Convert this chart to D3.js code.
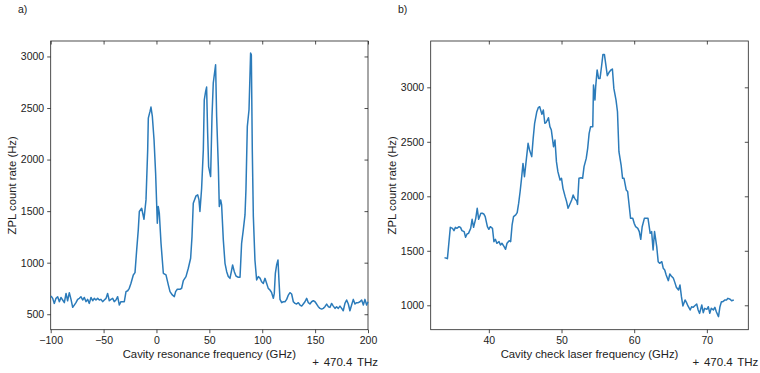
<!DOCTYPE html>
<html>
<head>
<meta charset="utf-8">
<script src="https://cdn.jsdelivr.net/npm/d3@7"></script>
<style>
  body { margin: 0; background: #fff; }
  svg text { font-family: "Liberation Sans", Arial, sans-serif; fill: #222; }
</style>
</head>
<body>
<div id="chart"></div>
<script>
// scan a) : cavity resonance frequency (GHz offset) vs ZPL count rate (Hz)
const scanA = [
  [-99.7,677],[-98.1,654],[-96.6,605],[-95.0,654],[-93.4,670],[-91.8,622],[-90.3,663],[-88.7,638],
  [-87.1,612],[-85.5,702],[-84.0,631],[-82.4,709],[-80.8,644],[-79.2,567],[-77.7,589],[-76.1,612],
  [-74.5,644],[-72.9,654],[-71.4,670],[-69.8,638],[-68.2,663],[-66.6,622],[-65.1,644],[-63.5,605],
  [-61.9,663],[-60.3,631],[-58.8,654],[-57.2,638],[-55.6,654],[-54.0,638],[-52.5,644],[-50.9,622],
  [-49.3,638],[-47.7,654],[-46.2,702],[-44.6,631],[-43.0,644],[-41.4,654],[-39.9,622],[-38.3,638],
  [-36.7,670],[-35.1,589],[-33.6,622],[-32.0,622],[-30.4,622],[-28.8,719],[-27.2,728],[-25.7,751],
  [-24.1,800],[-21.9,881],[-20.3,904],[-18.7,1124],[-17.2,1318],[-16.2,1496],[-14.0,1528],[-11.8,1421],
  [-9.9,1609],[-8.3,2094],[-7.7,2402],[-6.1,2467],[-5.2,2509],[-3.9,2418],[-2.3,2192],[-0.8,1868],
  [0.8,1383],[1.7,1544],[2.7,1480],[4.3,1188],[6.5,897],[9.0,881],[11.2,784],[12.8,719],
  [15.0,687],[16.9,671],[18.1,719],[19.7,742],[22.2,742],[23.8,752],[25.4,826],[27.9,865],
  [30.1,946],[32.3,1043],[33.6,1253],[34.8,1577],[37.4,1648],[39.0,1658],[40.2,1609],[41.1,1496],
  [42.7,1722],[44.3,2094],[45.2,2580],[46.5,2661],[47.4,2703],[48.4,2256],[49.3,1932],[51.2,1835],
  [52.5,2418],[53.7,2741],[55.3,2871],[55.9,2919],[56.9,2418],[58.5,1932],[59.4,1544],[60.7,1609],
  [61.6,1560],[63.2,1221],[64.8,994],[66.4,913],[67.9,865],[69.5,848],[71.1,929],[72.0,978],
  [73.6,913],[75.2,871],[77.4,858],[79.0,858],[80.5,1188],[82.1,1318],[83.7,1463],[84.6,1706],
  [85.9,2321],[87.5,2483],[89.0,3033],[89.7,3016],[90.6,2094],[91.6,1447],[93.1,1026],[94.7,832],
  [96.3,865],[97.9,850],[99.4,815],[101.0,799],[102.6,848],[104.2,799],[105.7,751],[107.3,735],
  [108.9,709],[110.5,654],[111.4,702],[112.4,897],[113.6,977],[114.9,1026],[115.8,832],[116.8,644],
  [118.4,612],[119.9,621],[121.5,621],[123.1,644],[124.7,686],[126.2,709],[127.8,696],[129.4,621],
  [131.0,605],[132.5,599],[134.1,612],[135.7,589],[137.3,579],[138.8,599],[140.4,621],[142.0,654],
  [143.6,612],[145.1,599],[146.7,621],[148.3,631],[149.9,621],[151.4,599],[153.0,573],[154.6,557],
  [156.2,550],[157.7,557],[159.3,573],[160.9,599],[162.5,573],[164.0,566],[165.6,605],[167.2,579],
  [168.8,557],[170.3,573],[171.9,557],[173.5,579],[175.1,557],[176.6,534],[178.2,605],[179.8,638],
  [181.4,599],[182.9,534],[184.5,589],[186.1,644],[187.7,599],[189.2,612],[190.8,612],[192.4,621],
  [194.0,638],[195.6,589],[197.1,644],[198.7,589],[200.0,621]
];

// scan b) : cavity check laser frequency (GHz offset) vs ZPL count rate (Hz)
const scanB = [
  [33.9,1437],[34.3,1428],[34.7,1715],[35.0,1706],[35.2,1685],[35.4,1715],[35.6,1706],[35.9,1721],
  [36.1,1715],[36.3,1685],[36.6,1676],[36.8,1624],[37.0,1654],[37.2,1660],[37.5,1706],[37.7,1789],
  [37.9,1715],[38.2,1798],[38.4,1890],[38.6,1789],[38.9,1844],[39.1,1844],[39.3,1838],[39.5,1813],
  [39.8,1721],[40.0,1697],[40.2,1721],[40.5,1706],[40.7,1584],[40.9,1605],[41.1,1569],[41.4,1584],
  [41.6,1553],[41.8,1569],[42.1,1538],[42.3,1514],[42.5,1569],[42.8,1593],[43.0,1584],[43.2,1737],
  [43.4,1813],[43.7,1829],[43.9,1850],[44.1,1935],[44.3,2042],[44.5,2165],[44.7,2302],[44.9,2180],
  [45.2,2364],[45.4,2486],[45.6,2425],[45.9,2364],[46.1,2532],[46.3,2670],[46.6,2776],[46.8,2813],
  [47.0,2822],[47.3,2752],[47.5,2792],[47.7,2670],[47.9,2679],[48.2,2721],[48.4,2639],[48.6,2608],
  [48.9,2455],[49.1,2516],[49.3,2318],[49.5,2226],[49.8,2150],[50.0,2165],[50.2,2073],[50.5,1997],
  [50.7,1951],[50.9,1890],[51.1,1920],[51.4,1966],[51.6,2012],[51.8,1981],[52.1,1957],[52.2,1926],
  [52.4,2165],[52.7,2171],[52.9,2165],[53.1,2272],[53.4,2348],[53.6,2440],[53.8,2578],[54.0,2639],
  [54.3,2639],[54.4,3021],[54.6,2883],[54.7,3006],[54.9,3159],[55.1,3082],[55.3,3082],[55.5,3189],
  [55.7,3302],[55.9,3302],[56.1,3205],[56.3,3107],[56.6,3143],[56.8,3159],[57.0,3168],[57.2,2990],
  [57.5,2883],[57.7,2776],[57.9,2409],[58.2,2287],[58.4,2165],[58.6,2165],[58.9,2058],[59.1,2043],
  [59.3,1920],[59.5,1798],[59.8,1798],[60.0,1752],[60.2,1721],[60.5,1706],[60.7,1676],[60.9,1605],
  [61.1,1721],[61.4,1798],[61.6,1798],[61.9,1798],[62.2,1660],[62.4,1676],[62.6,1507],[62.8,1676],
  [63.1,1538],[63.3,1400],[63.5,1385],[63.8,1400],[64.0,1339],[64.2,1324],[64.4,1278],[64.7,1226],
  [64.9,1287],[65.1,1269],[65.4,1247],[65.6,1208],[65.8,1165],[66.1,1140],[66.3,1186],[66.5,1079],
  [66.7,994],[67.0,1049],[67.2,1024],[67.4,994],[67.7,957],[67.9,987],[68.1,981],[68.3,994],
  [68.6,1012],[68.8,957],[69.0,926],[69.3,1003],[69.5,932],[69.7,972],[70.0,963],[70.2,987],
  [70.4,926],[70.6,972],[70.9,957],[71.1,981],[71.3,941],[71.6,896],[71.8,987],[72.0,1033],
  [72.2,1033],[72.5,1049],[72.7,1049],[72.9,1064],[73.2,1055],[73.4,1042],[73.7,1049]
];

// axis ranges and ticks
const xDomainA = [-100, 200];
const yDomainA = [350, 3150];
const xTicksA = [-100, -50, 0, 50, 100, 150, 200];
const yTicksA = [500, 1000, 1500, 2000, 2500, 3000];

const xDomainB = [32.0, 75.7];
const yDomainB = [776, 3425];
const xTicksB = [40, 50, 60, 70];
const yTicksB = [1000, 1500, 2000, 2500, 3000];

const yLabel = "ZPL count rate (Hz)";
const offsetLabel = "+ 470.4 THz";

const width = 760, height = 373;
const svg = d3.select("#chart").append("svg")
  .attr("width", width)
  .attr("height", height);

const fmt = d3.format("d");

function drawPanel(opts) {
  const {left, right, top, bottom} = opts;
  const x = d3.scaleLinear().domain(opts.xDomain).range([left, right]);
  const y = d3.scaleLinear().domain(opts.yDomain).range([bottom, top]);
  const g = svg.append("g");

  // bottom axis (ticks out)
  g.append("g")
    .attr("transform", `translate(0,${bottom})`)
    .call(d3.axisBottom(x).tickValues(opts.xTicks).tickFormat(d => fmt(d).replace("-", "\u2212"))
      .tickSize(3.5).tickPadding(3).tickSizeOuter(0))
    .call(a => a.select(".domain").remove());
  // left axis (ticks out)
  g.append("g")
    .attr("transform", `translate(${left},0)`)
    .call(d3.axisLeft(y).tickValues(opts.yTicks).tickFormat(fmt).tickSize(3.5).tickPadding(3).tickSizeOuter(0))
    .call(a => a.select(".domain").remove());
  // top and right mirrored ticks pointing inside
  g.append("g")
    .attr("transform", `translate(0,${top})`)
    .call(d3.axisTop(x).tickValues(opts.xTicks).tickSize(-3.5).tickFormat("").tickSizeOuter(0))
    .call(a => a.select(".domain").remove());
  g.append("g")
    .attr("transform", `translate(${right},0)`)
    .call(d3.axisRight(y).tickValues(opts.yTicks).tickSize(-3.5).tickFormat("").tickSizeOuter(0))
    .call(a => a.select(".domain").remove());

  g.selectAll(".tick text")
    .style("font-size", "10.5px")
    .attr("fill", "#222");
  g.selectAll(".tick line").attr("stroke", "#222").attr("stroke-width", 0.8);

  // frame
  g.append("rect")
    .attr("x", left).attr("y", top)
    .attr("width", right - left).attr("height", bottom - top)
    .attr("fill", "none").attr("stroke", "#222").attr("stroke-width", 0.8);

  // data line
  const line = d3.line().x(d => x(d[0])).y(d => y(d[1]));
  g.append("path")
    .datum(opts.data)
    .attr("d", line)
    .attr("fill", "none")
    .attr("stroke", "#2b7bba")
    .attr("stroke-width", 1.5)
    .attr("stroke-linejoin", "round");

  // labels
  g.append("text")
    .attr("x", (left + right) / 2).attr("y", 358)
    .attr("text-anchor", "middle")
    .style("font-size", "11.3px")
    .text(opts.xLabel);
  g.append("text")
    .attr("x", right + 10).attr("y", 366)
    .attr("text-anchor", "end")
    .style("font-size", "11.5px")
    .style("word-spacing", "1.5px")
    .text(offsetLabel);
  g.append("text")
    .attr("transform", `translate(${opts.yLabelX},${(top + bottom) / 2}) rotate(-90)`)
    .attr("text-anchor", "middle")
    .attr("dy", "0.35em")
    .style("font-size", "11.3px")
    .text(yLabel);
  g.append("text")
    .attr("x", opts.tagX).attr("y", 13)
    .style("font-size", "10.5px")
    .text(opts.tag);
}

drawPanel({
  left: 50.7, right: 368, top: 41, bottom: 329.7,
  xDomain: xDomainA, yDomain: yDomainA, xTicks: xTicksA, yTicks: yTicksA,
  data: scanA, xLabel: "Cavity resonance frequency (GHz)", yLabelX: 12, tagX: 18, tag: "a)"
});

drawPanel({
  left: 430.7, right: 748.3, top: 41, bottom: 329.7,
  xDomain: xDomainB, yDomain: yDomainB, xTicks: xTicksB, yTicks: yTicksB,
  data: scanB, xLabel: "Cavity check laser frequency (GHz)", yLabelX: 392, tagX: 398, tag: "b)"
});
</script>
</body>
</html>
